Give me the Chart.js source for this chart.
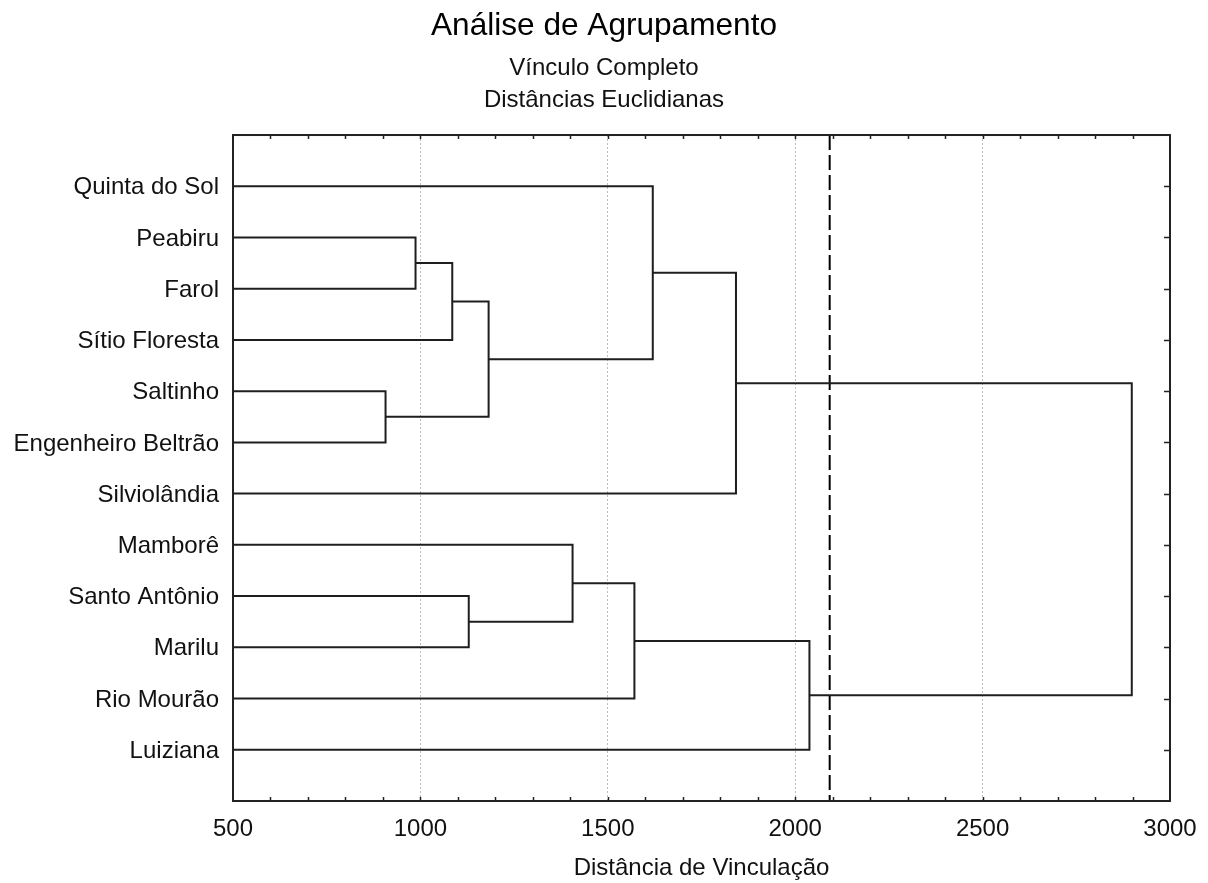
<!DOCTYPE html>
<html lang="pt-BR">
<head>
  <meta charset="UTF-8">
  <title>Análise de Agrupamento</title>
  <script src="https://cdn.jsdelivr.net/npm/chart.js"></script>
  <style>
    body {
      margin: 0;
      background: #fff;
    }
    #grafico {
      display: block;
    }
  </style>
</head>
<body>
  <canvas id="grafico" width="1208" height="883"></canvas>

  <script>
    // nomes das localidades, de cima para baixo
    const localidades = ['Quinta do Sol', 'Peabiru', 'Farol', 'Sítio Floresta', 'Saltinho',
      'Engenheiro Beltrão', 'Silviolândia', 'Mamborê', 'Santo Antônio', 'Marilu', 'Rio Mourão', 'Luiziana'];

    // fusões: índice do grupo A, índice do grupo B (12+ = grupo criado antes), distância
    const grupoA = [1, 12, 4, 13, 0, 16, 8, 7, 19, 20, 17];
    const grupoB = [2, 3, 5, 14, 15, 6, 9, 18, 10, 11, 21];
    const distancias = [987, 1085, 907, 1182, 1620, 1842, 1129, 1406, 1571, 2038, 2898];

    // linha de corte tracejada
    const corte = 2092;

    const ticksX = [500, 1000, 1500, 2000, 2500, 3000];
    const passoMenor = 100;

    // monta os colchetes do dendrograma
    const posicoes = localidades.map((_, i) => ({ x: 0, y: i + 1 }));
    const segmentos = [];
    grupoA.forEach((a, k) => {
      const pa = posicoes[a], pb = posicoes[grupoB[k]], h = distancias[k];
      segmentos.push([
        { x: pa.x, y: pa.y }, { x: h, y: pa.y },
        { x: h, y: pb.y }, { x: pb.x, y: pb.y }
      ]);
      posicoes.push({ x: h, y: (pa.y + pb.y) / 2 });
    });

    const datasets = segmentos.map(s => ({
      data: s,
      showLine: true,
      borderColor: '#1e1e1e',
      borderWidth: 2,
      pointRadius: 0,
      fill: false
    }));
    datasets.push({
      data: [{ x: corte, y: 0 }, { x: corte, y: localidades.length + 1 }],
      showLine: true,
      borderColor: '#000',
      borderWidth: 2,
      borderDash: [15, 5],
      pointRadius: 0
    });

    // moldura e marcas internas
    const moldura = {
      id: 'moldura',
      afterDatasetsDraw(chart) {
        const { ctx, chartArea: a, scales } = chart;
        ctx.save();
        ctx.strokeStyle = '#222';
        ctx.lineWidth = 1.5;
        ctx.beginPath();
        for (let v = scales.x.min + passoMenor; v < scales.x.max; v += passoMenor) {
          const px = Math.round(scales.x.getPixelForValue(v)) + 0.5;
          ctx.moveTo(px, a.bottom); ctx.lineTo(px, a.bottom - 4);
          ctx.moveTo(px, a.top); ctx.lineTo(px, a.top + 4);
        }
        localidades.forEach((_, i) => {
          const py = Math.round(scales.y.getPixelForValue(i + 1)) + 0.5;
          ctx.moveTo(a.right, py); ctx.lineTo(a.right - 6, py);
        });
        ctx.stroke();
        ctx.lineWidth = 2;
        ctx.strokeRect(a.left, a.top, a.right - a.left, a.bottom - a.top);
        ctx.restore();
      }
    };

    Chart.defaults.font.family = '"Liberation Sans", Arial, sans-serif';
    Chart.defaults.color = '#111';

    new Chart(document.getElementById('grafico'), {
      type: 'scatter',
      data: { datasets },
      options: {
        responsive: false,
        animation: false,
        devicePixelRatio: 1,
        layout: { padding: 0 },
        plugins: {
          legend: { display: false },
          tooltip: { enabled: false },
          title: {
            display: true,
            text: 'Análise de Agrupamento',
            font: { size: 31.6, weight: 'normal' },
            color: '#000',
            padding: { top: 7.6, bottom: 0 }
          },
          subtitle: {
            display: true,
            text: ['Vínculo Completo', 'Distâncias Euclidianas'],
            font: { size: 24, lineHeight: 32 / 24 },
            color: '#111',
            padding: { top: 6.5, bottom: 19 }
          }
        },
        scales: {
          x: {
            type: 'linear',
            min: 500,
            max: 3000,
            afterBuildTicks: s => { s.ticks = ticksX.map(v => ({ value: v })); },
            ticks: { font: { size: 24 }, padding: 14, maxRotation: 0, callback: v => String(v) },
            grid: {
              drawTicks: false,
              color: c => (c.tick && (c.tick.value === 500 || c.tick.value === 3000)) ? 'rgba(0,0,0,0)' : '#bdbdbd',
              lineWidth: 1
            },
            border: { display: false, dash: [2, 2] },
            title: {
              display: true,
              text: 'Distância de Vinculação',
              font: { size: 24 },
              padding: { top: 0, bottom: 0 }
            },
            afterFit: s => { s.height = 82; s.paddingLeft = 0; s.paddingRight = 0; }
          },
          y: {
            type: 'linear',
            min: 0,
            max: localidades.length + 1,
            reverse: true,
            ticks: {
              stepSize: 1,
              autoSkip: false,
              font: { size: 24 },
              padding: 14,
              labelOffset: 1.5,
              callback: v => localidades[v - 1] || ''
            },
            grid: { display: false, drawTicks: false },
            border: { display: false },
            afterFit: s => { s.width = 233; }
          },
          // margem à direita
          y2: {
            type: 'linear',
            position: 'right',
            display: true,
            ticks: { display: false },
            grid: { display: false, drawTicks: false },
            border: { display: false },
            afterFit: s => { s.width = 38; }
          }
        }
      },
      plugins: [moldura]
    });
  </script>
</body>
</html>
